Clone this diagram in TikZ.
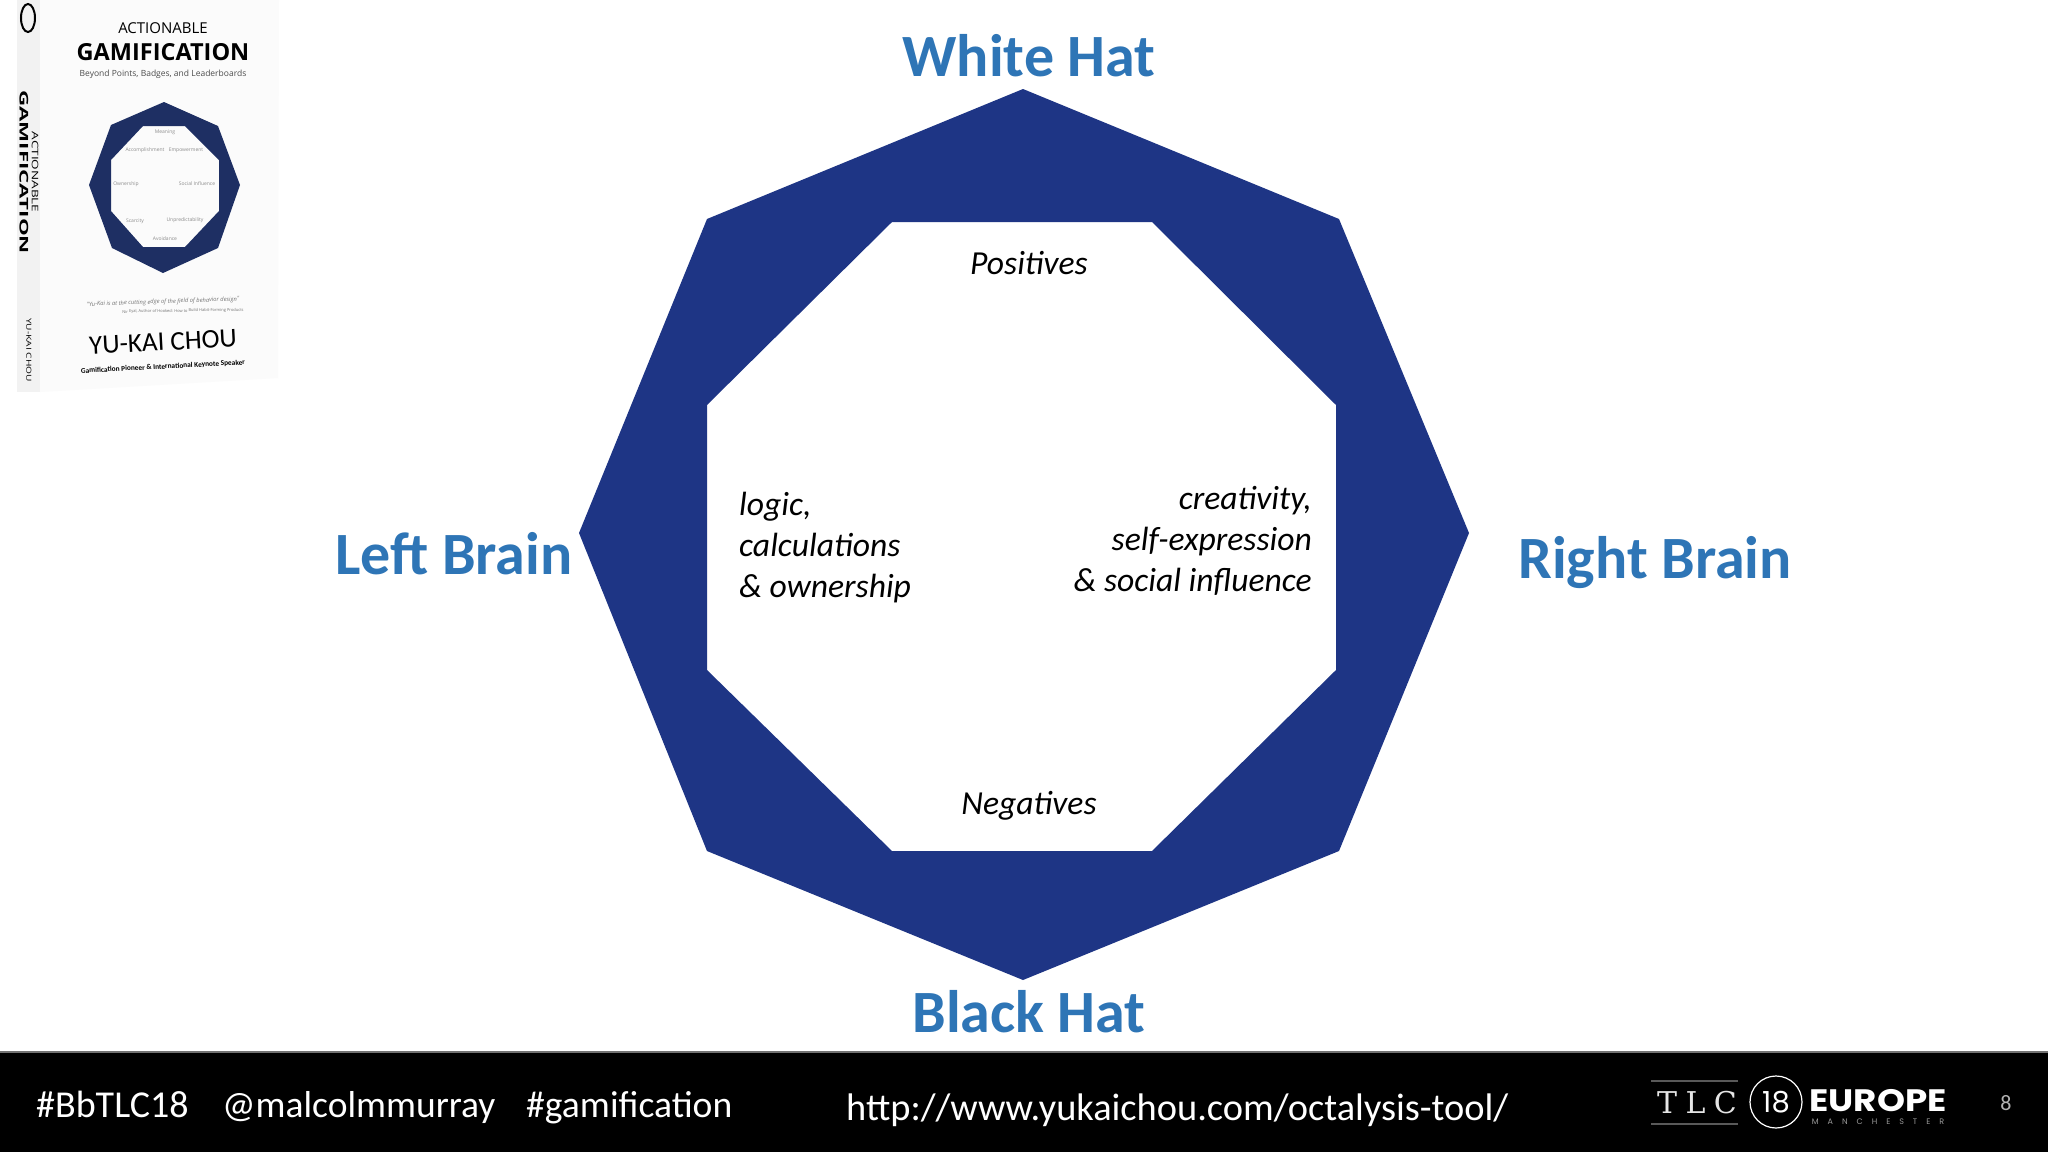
\documentclass[tikz,border=0pt]{standalone}
\usepackage{fontspec}
\setmainfont{Carlito}
\newfontfamily\bookfont{Open Sans}
\newfontfamily\logofont{Poppins}
\newfontfamily\slabfont{DejaVu Serif}
\definecolor{octblue}{HTML}{1E3585}
\definecolor{headblue}{HTML}{2E75B6}
\definecolor{bookblue}{HTML}{1E2F63}
\tikzset{
 headlabel/.style={font=\fontsize{60}{66}\selectfont\bfseries,text=headblue,inner sep=0pt},
 noteleft/.style={font=\fontsize{33.6}{41}\selectfont\itshape,align=left,inner sep=0pt},
 noteright/.style={font=\fontsize{33.6}{41}\selectfont\itshape,align=right,inner sep=0pt},
 notemid/.style={font=\fontsize{33.6}{41}\selectfont\itshape,inner sep=0pt},
 foot/.style={font=\fontsize{38}{44}\selectfont,text=white,inner sep=0pt,anchor=base west},
 booktext/.style={inner sep=0pt,text=black},
}
\begin{document}
\begin{tikzpicture}[x=1pt,y=-1pt]
\useasboundingbox (0,0) rectangle (2048,1152);
\fill[white] (0,0) rectangle (2048,1152);
% book
\fill[black!5] (17,0) -- (44,0) -- (44,392) -- (17,392) -- cycle;
\fill[black!1.5] (40,0) -- (279,0) -- (278,378) -- (40,392) -- cycle;
\draw[black,line width=2pt] (28,18) ellipse (7 and 14);
\node[booktext,rotate=-90,xscale=1.86,font=\bookfont\bfseries\fontsize{12}{14}\selectfont] (spine1) at (24,172) {GAMIFICATION};
\node[booktext,rotate=-90,xscale=1.5,font=\bookfont\fontsize{9}{11}\selectfont] (spine2) at (35,172) {ACTIONABLE};
\node[booktext,rotate=-90,xscale=1.45,font=\bookfont\fontsize{7}{8}\selectfont] (spine3) at (29,350) {YU-KAI CHOU};
\node[booktext,font=\bookfont\fontsize{15}{16}\selectfont] (b1) at (163,28) {ACTIONABLE};
\node[booktext,font=\bookfont\bfseries\fontsize{23.5}{24}\selectfont] (b2) at (163,52) {GAMIFICATION};
\node[booktext,font=\bookfont\fontsize{8.5}{9}\selectfont,text=black!70] (b3) at (163,74) {Beyond Points, Badges, and Leaderboards};
\fill[bookblue,even odd rule] (164,102) -- (218,126) -- (240,185) -- (218,248) -- (163,273) -- (112,248) -- (89,185) -- (111,125) -- cycle
 (143,126) -- (185,126) -- (219,160) -- (219,211) -- (185,247) -- (143,247) -- (111,211) -- (111,160) -- cycle;
\foreach \nm/\px/\py/\tx in {c1/165/132/Meaning,c2/145/150/Accomplishment,c3/186/150/Empowerment,c4/126/184/Ownership,c5/197/184/Social Influence,c6/135/221/Scarcity,c7/185/220/Unpredictability,c8/165/239/Avoidance}
 \node[booktext,text=black!45,font=\bookfont\fontsize{5}{6}\selectfont] (\nm) at (\px,\py) {\tx};
\node[booktext,text=black!55,rotate=2,font=\bookfont\itshape\fontsize{5.8}{6}\selectfont] (b4) at (163,302) {"Yu-Kai is at the cutting edge of the field of behavior design"};
\node[booktext,text=black!55,font=\bookfont\fontsize{4}{5}\selectfont,rotate=1] (b5) at (183,311) {Nir Eyal, Author of Hooked: How to Build Habit-Forming Products};
\node[booktext,rotate=3,font=\fontsize{27}{30}\selectfont] (b6) at (163,342) {YU-KAI CHOU};
\node[booktext,rotate=3,font=\bfseries\fontsize{7.3}{9}\selectfont] (b7) at (163,367) {Gamification Pioneer \& International Keynote Speaker};
% octagon
\fill[octblue,even odd rule] (1023,89) -- (1339,219) -- (1469,533) -- (1339,851) -- (1023,980) -- (707,851) -- (579,533) -- (707,219) -- cycle
 (892,222) -- (1152,222) -- (1336,405) -- (1336,670) -- (1152,851) -- (892,851) -- (707,670) -- (707,405) -- cycle;
% labels
\node[headlabel] (white) at (1029,56) {White Hat};
\node[headlabel] (black) at (1029,1012) {Black Hat};
\node[headlabel] (left) at (454,554) {Left Brain};
\node[headlabel] (right) at (1655,563) {Right Brain};
\node[notemid] (pos) at (1029,263) {Positives};
\node[notemid] (neg) at (1029,806) {Negatives};
\node[noteleft,anchor=west] (lg) at (739,548) {logic,\\calculations\\\& ownership};
\node[noteright,anchor=east] (cr) at (1312,541) {creativity,\\self-expression\\\& social influence};
% footer
\fill[black] (0,1052) rectangle (2048,1152);
\draw[black!55!white,line width=1.2pt] (0,1052) -- (2048,1052);
\node[foot] (f1) at (36,1117) {\#BbTLC18};
\node[foot,font=\fontsize{37.5}{44}\selectfont] (f2) at (222,1117) {@malcolmmurray};
\node[foot,font=\fontsize{37.6}{44}\selectfont] (f3) at (526,1117) {\#gamification};
\node[foot,font=\fontsize{38.4}{44}\selectfont] (f4) at (846,1120) {http://www.yukaichou.com/octalysis-tool/};
\draw[black!65!white,line width=1.4pt] (1651,1081) -- (1738,1081);
\draw[black!65!white,line width=1.4pt] (1651,1124) -- (1738,1124);
\node[inner sep=0pt,text=white!90!black,font=\slabfont\fontsize{30}{30}\selectfont\addfontfeature{LetterSpace=28}] (tlc) at (1697,1103) {TLC};
\node[draw=white,line width=1.2pt,circle,minimum size=52pt,inner sep=0pt,text=white,font=\logofont\fontsize{29}{30}\selectfont] (eighteen) at (1776,1102) {18};
\node[inner sep=0pt,text=white,xscale=1.15,font=\logofont\bfseries\fontsize{31}{31}\selectfont] (eu) at (1878,1101) {EUROPE};
\node[inner sep=0pt,text=black!40!white,font=\logofont\fontsize{8}{8}\selectfont\addfontfeature{LetterSpace=112}] (man) at (1878,1122) {MANCHESTER};
\node[inner sep=0pt,text=black!30!white,font=\fontsize{22}{24}\selectfont] (pg) at (2006,1103) {8};
\end{tikzpicture}
\end{document}
